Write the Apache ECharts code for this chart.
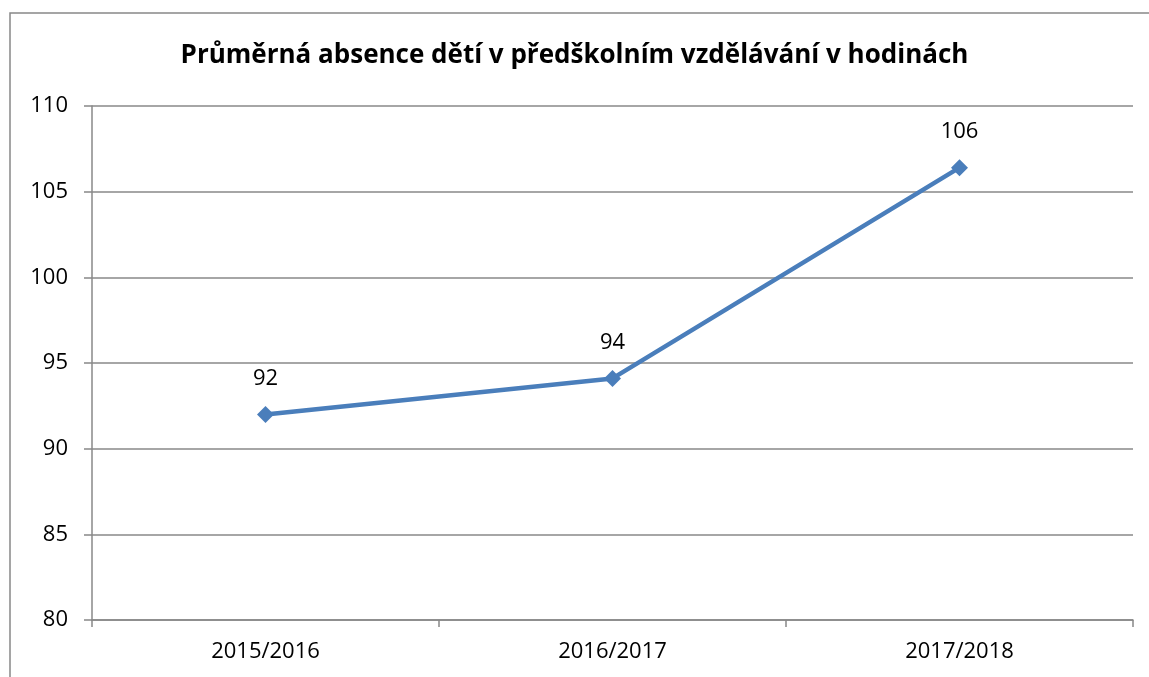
<html>
<head>
<meta charset="UTF-8" />
<title>Absence</title>
</head>
<body style="margin:0">
<div id="main" style="width:1149px;height:677px;"></div>
<script src="https://cdn.jsdelivr.net/npm/echarts@6/dist/echarts.min.js"></script>
<script>
var years = ['2015/2016', '2016/2017', '2017/2018'];
var absence = [92.0, 94.1, 106.4];

var chart = echarts.init(document.getElementById('main'));
var font = 'Open Sans, Noto Sans, sans-serif';
chart.setOption({
    backgroundColor: '#fff',
    animation: false,
    graphic: [{
        type: 'rect',
        shape: { x: 10, y: 13, width: 1200, height: 720 },
        style: { fill: 'none', stroke: '#888', lineWidth: 1.5 },
        silent: true
    }],
    title: {
        text: 'Průměrná absence dětí v předškolním vzdělávání v hodinách',
        left: 'center',
        top: 38,
        textStyle: { fontFamily: font, fontSize: 26, fontWeight: 'bold', color: '#000' }
    },
    grid: { left: 92, right: 16, top: 106, bottom: 57 },
    xAxis: {
        type: 'category',
        data: years,
        boundaryGap: true,
        axisLine: { lineStyle: { color: '#888', width: 1.5 } },
        axisTick: { show: true, alignWithLabel: false, length: 7, lineStyle: { color: '#888', width: 1.5 } },
        axisLabel: { fontFamily: font, fontSize: 22, color: '#000', margin: 21 }
    },
    yAxis: {
        type: 'value',
        min: 80,
        max: 110,
        interval: 5,
        axisLine: { show: true, lineStyle: { color: '#888', width: 1.5 } },
        axisTick: { show: true, length: 8, lineStyle: { color: '#888', width: 1.5 } },
        splitLine: { lineStyle: { color: '#888', width: 1.5 } },
        axisLabel: { fontFamily: font, fontSize: 22, color: '#000', margin: 24 }
    },
    series: [{
        type: 'line',
        data: absence,
        symbol: 'diamond',
        symbolSize: [17, 17],
        lineStyle: { color: '#4a7ebb', width: 4.5 },
        itemStyle: { color: '#4a7ebb' },
        label: {
            show: true,
            position: 'top',
            distance: 16,
            fontFamily: font,
            fontSize: 22,
            color: '#000',
            formatter: function (p) { return Math.round(p.value); }
        }
    }]
});
</script>
</body>
</html>
